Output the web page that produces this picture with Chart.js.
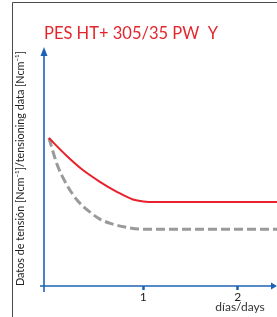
<!DOCTYPE html>
<html>
<head>
<meta charset="utf-8">
<script src="https://cdn.jsdelivr.net/npm/chart.js@4.4.1/dist/chart.umd.min.js"></script>
<style>
  html, body { margin:0; padding:0; background:#fff; }
  #wrap { width:277px; height:317px; position:relative; }
</style>
</head>
<body>
<div id="wrap"><canvas id="myChart"></canvas></div>
<script>
// data (days / tension, 0-100 scale)
var redDays   = [0.0, 0.19, 0.36, 0.54, 0.72, 0.89, 1.0, 1.12, 2.42];
var redVals   = [61.9, 54.4, 48.5, 43.6, 39.4, 36.2, 35.35, 35.1, 35.1];
var grayDays  = [0.0, 0.09, 0.19, 0.30, 0.44, 0.54, 0.65, 0.79, 0.97, 1.2, 2.42];
var grayVals  = [61.9, 50.5, 42.3, 35.9, 30.75, 28.0, 26.2, 24.8, 23.8, 23.7, 23.7];
var xTicks    = [1, 2];
var titleText = "PES HT+ 305/35 PW  Y";
var yLabel    = "Datos de tensión [Ncm⁻¹]/tensioning data [Ncm⁻¹]";
var xLabel    = "días/days";

var blue = '#1d63b5';
var fontFam = 'Lato, "Open Sans", sans-serif';

function pts(xs, ys){
  var out = [];
  for(var i=0;i<xs.length;i++){ out.push({x:xs[i], y:ys[i]}); }
  return out;
}

// rahmen, achsen, pfeile, titel
var deco = {
  id:'deco',
  beforeDraw:function(chart){
    var c = chart.ctx;
    c.save();
    c.strokeStyle = '#4a4a4a';
    c.lineWidth = 1;
    c.beginPath();
    c.moveTo(12.5, 317); c.lineTo(12.5, 2.5); c.lineTo(277, 2.5);
    c.stroke();
    c.restore();
  },
  afterDraw:function(chart){
    var c = chart.ctx, a = chart.chartArea, xs = chart.scales.x;
    var x0 = a.left, y0 = a.bottom;
    c.save();
    c.strokeStyle = blue; c.fillStyle = blue; c.lineWidth = 1.6;
    // y axis
    c.beginPath(); c.moveTo(x0, y0 + 6); c.lineTo(x0, a.top + 8); c.stroke();
    c.beginPath(); c.moveTo(x0, a.top); c.lineTo(x0 - 3.5, a.top + 9); c.lineTo(x0 + 3.5, a.top + 9); c.closePath(); c.fill();
    // x axis
    c.beginPath(); c.moveTo(x0 - 4, y0); c.lineTo(a.right - 5, y0); c.stroke();
    c.beginPath(); c.moveTo(a.right, y0); c.lineTo(a.right - 6, y0 - 3.5); c.lineTo(a.right - 6, y0 + 3.5); c.closePath(); c.fill();
    // titel
    c.fillStyle = '#e3262d';
    c.font = '16.5px ' + fontFam;
    c.textBaseline = 'alphabetic'; c.textAlign = 'left';
    c.fillText(titleText, 44, 39);
    // x label
    c.fillStyle = '#333';
    c.font = '12px ' + fontFam;
    c.textAlign = 'center'; c.textBaseline = 'middle';
    c.fillText(xLabel, xs.getPixelForValue(2.025), 307);
    c.restore();
  }
};

var ctx = document.getElementById('myChart');
new Chart(ctx, {
  type:'line',
  data:{
    datasets:[{
      data: pts(redDays, redVals),
      borderColor:'#e8212b', borderWidth:2,
      pointRadius:0, cubicInterpolationMode:'monotone', fill:false
    },{
      data: pts(grayDays, grayVals),
      borderColor:'#9a9a9a', borderWidth:3, borderDash:[9,4],
      pointRadius:0, cubicInterpolationMode:'monotone', fill:false
    }]
  },
  options:{
    responsive:true, maintainAspectRatio:false, animation:false,
    layout:{ padding:{ top:47, left:0, right:0, bottom:0 } },
    plugins:{ legend:{display:false}, tooltip:{enabled:false} },
    scales:{
      x:{
        type:'linear', min:-0.052, max:2.416,
        afterBuildTicks:function(s){ s.ticks = xTicks.map(function(v){ return {value:v}; }); },
        afterFit:function(s){ s.height = 31; },
        border:{display:false},
        grid:{ drawOnChartArea:false, drawTicks:true, tickLength:4, tickWidth:2.5, tickColor:blue },
        ticks:{ color:'#222', padding:0, font:{ size:12, family:fontFam }, maxRotation:0 }
      },
      y:{
        min:0, max:100,
        afterFit:function(s){ s.width = 44; },
        border:{display:false},
        grid:{display:false},
        ticks:{display:false},
        title:{ display:true, text:yLabel, align:'start', color:'#222',
          font:{ size:10.8, family:fontFam }, padding:{ top:14, bottom:0 } }
      }
    }
  },
  plugins:[deco]
});
</script>
</body>
</html>
